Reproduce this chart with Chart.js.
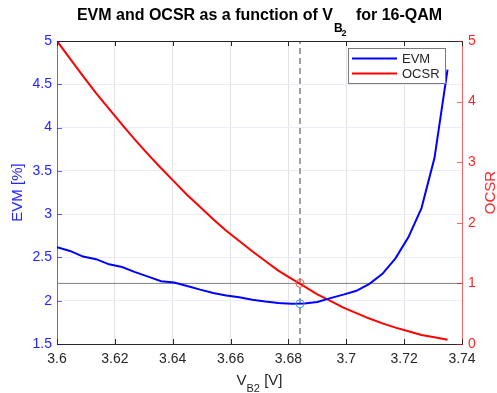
<!DOCTYPE html>
<html>
<head>
<meta charset="utf-8">
<script src="https://cdn.jsdelivr.net/npm/chart.js@4.4.1/dist/chart.umd.min.js"></script>
<style>
  html, body { margin: 0; padding: 0; background: #ffffff; }
  #wrap { width: 497px; height: 393px; }
</style>
</head>
<body>
<div id="wrap"><canvas id="c" width="497" height="393"></canvas></div>
<script>
// ---- data ----
const vb2 = [3.6000, 3.6045, 3.6090, 3.6135, 3.6180, 3.6225, 3.6270, 3.6315, 3.6360, 3.6405,
             3.6450, 3.6495, 3.6540, 3.6585, 3.6630, 3.6675, 3.6720, 3.6765, 3.6810, 3.6855,
             3.6900, 3.6945, 3.6990, 3.7035, 3.7080, 3.7125, 3.7170, 3.7215, 3.7260, 3.7305,
             3.7350];
const evm = [2.617, 2.575, 2.510, 2.480, 2.420, 2.390, 2.330, 2.278, 2.225, 2.210,
             2.170, 2.128, 2.090, 2.060, 2.040, 2.010, 1.990, 1.975, 1.965, 1.968,
             1.985, 2.030, 2.070, 2.115, 2.195, 2.310, 2.490, 2.735, 3.070, 3.650,
             4.670];
const ocsr = [5.00, 4.71, 4.42, 4.14, 3.88, 3.62, 3.37, 3.13, 2.90, 2.68,
              2.46, 2.26, 2.06, 1.87, 1.70, 1.53, 1.37, 1.21, 1.08, 0.95,
              0.82, 0.71, 0.60, 0.51, 0.42, 0.34, 0.27, 0.21, 0.15, 0.11,
              0.07];
const opPoint = 3.684;      // chosen V_B2 (dashed line)
const ocsrRef = 1;          // OCSR reference level (horizontal line)
const evmAtOp = 1.965;      // EVM at the operating point
const xRange = [3.6, 3.74];
const xTicks = [3.6, 3.62, 3.64, 3.66, 3.68, 3.7, 3.72, 3.74];
const xTickLabels = ['3.6', '3.62', '3.64', '3.66', '3.68', '3.7', '3.72', '3.74'];
const evmTicks = [1.5, 2, 2.5, 3, 3.5, 4, 4.5, 5];
const evmTickLabels = ['1.5', '2', '2.5', '3', '3.5', '4', '4.5', '5'];
const ocsrTicks = [0, 1, 2, 3, 4, 5];
const ocsrTickLabels = ['0', '1', '2', '3', '4', '5'];
const seriesNames = ['EVM', 'OCSR'];

// ---- styling ----
const FONT = '"Liberation Sans", Arial, Helvetica, sans-serif';
const BLUE = '#0000ff';
const RED = '#ff0000';
const BLUE_TXT = '#2424ff';
const RED_TXT = '#ff2424';
const DARK = '#262626';

const pts = (ys) => vb2.map((x, i) => ({ x: x, y: ys[i] }));

const decor = {
  id: 'decor',
  afterDraw(chart) {
    const ctx = chart.ctx;
    const a = chart.chartArea;
    const sx = chart.scales.x, sy = chart.scales.y, sy1 = chart.scales.y1;
    ctx.save();
    // top border
    ctx.strokeStyle = DARK;
    ctx.lineWidth = 1;
    ctx.beginPath();
    ctx.moveTo(a.left, Math.round(a.top) + 0.5);
    ctx.lineTo(a.right, Math.round(a.top) + 0.5);
    ctx.stroke();
    // inward ticks: x bottom & top
    const TL = 5;
    ctx.strokeStyle = DARK;
    xTicks.forEach(v => {
      const px = Math.round(sx.getPixelForValue(v)) + 0.5;
      ctx.beginPath();
      ctx.moveTo(px, a.bottom); ctx.lineTo(px, a.bottom - TL);
      ctx.moveTo(px, a.top); ctx.lineTo(px, a.top + TL);
      ctx.stroke();
    });
    // left ticks
    ctx.strokeStyle = 'rgba(0,0,255,0.6)';
    evmTicks.forEach(v => {
      const py = Math.round(sy.getPixelForValue(v)) + 0.5;
      ctx.beginPath();
      ctx.moveTo(a.left, py); ctx.lineTo(a.left + TL, py);
      ctx.stroke();
    });
    // right ticks
    ctx.strokeStyle = 'rgba(255,0,0,0.6)';
    ocsrTicks.forEach(v => {
      const py = Math.round(sy1.getPixelForValue(v)) + 0.5;
      ctx.beginPath();
      ctx.moveTo(a.right, py); ctx.lineTo(a.right - TL, py);
      ctx.stroke();
    });

    // title with nested subscript
    const cx = (a.left + a.right) / 2;
    const fMain = 'bold 16px ' + FONT, fSub = 'bold 12px ' + FONT, fSub2 = 'bold 9px ' + FONT;
    const t1 = 'EVM and OCSR as a function of V', tB = 'B', t2 = '2', t4 = 'for 16-QAM';
    const GAP = 23;
    ctx.font = fMain; const w1 = ctx.measureText(t1).width; const w4 = ctx.measureText(t4).width;
    ctx.font = fSub; const wB = ctx.measureText(tB).width;
    const tot = w1 + GAP + w4;
    let x0 = cx - tot / 2;
    ctx.fillStyle = '#000000';
    ctx.textAlign = 'left';
    ctx.textBaseline = 'alphabetic';
    ctx.font = fMain; ctx.fillText(t1, x0, 20); x0 += w1;
    ctx.font = fSub; ctx.fillText(tB, x0 + 1, 32);
    ctx.font = fSub2; ctx.fillText(t2, x0 + wB, 36);
    ctx.font = fMain; ctx.fillText(t4, x0 + GAP, 20);

    // x axis label
    const fx = '15px ' + FONT, fxs = '11px ' + FONT;
    ctx.font = fx; const wv = ctx.measureText('V').width; const wr = ctx.measureText(' [V]').width;
    ctx.font = fxs; const ws = ctx.measureText('B2').width;
    let xx = cx - (wv + ws + wr) / 2;
    ctx.fillStyle = DARK;
    ctx.font = fx; ctx.fillText('V', xx, 385); xx += wv;
    ctx.font = fxs; ctx.fillText('B2', xx, 392); xx += ws;
    ctx.font = fx; ctx.fillText(' [V]', xx, 385);

    // y axis labels
    const cy = (a.top + a.bottom) / 2;
    ctx.font = '15px ' + FONT;
    ctx.textAlign = 'center';
    ctx.textBaseline = 'middle';
    ctx.save();
    ctx.translate(18, cy);
    ctx.rotate(-Math.PI / 2);
    ctx.fillStyle = BLUE_TXT;
    ctx.fillText('EVM [%]', 0, 0);
    ctx.restore();
    ctx.save();
    ctx.translate(491, cy);
    ctx.rotate(-Math.PI / 2);
    ctx.fillStyle = RED_TXT;
    ctx.fillText('OCSR', 0, 0);
    ctx.restore();

    // legend
    const lx = 348.5, ly = 48.5, lw = 97, lh = 35;
    ctx.fillStyle = '#ffffff';
    ctx.fillRect(lx, ly, lw, lh);
    ctx.strokeStyle = '#7a7a7a';
    ctx.lineWidth = 1;
    ctx.strokeRect(lx, ly, lw, lh);
    const rows = [[seriesNames[0], BLUE, 58.5], [seriesNames[1], RED, 73.5]];
    ctx.textAlign = 'left';
    ctx.textBaseline = 'middle';
    ctx.font = '13px ' + FONT;
    rows.forEach(r => {
      ctx.strokeStyle = r[1];
      ctx.lineWidth = 2;
      ctx.beginPath();
      ctx.moveTo(352, r[2]); ctx.lineTo(397, r[2]);
      ctx.stroke();
      ctx.fillStyle = DARK;
      ctx.fillText(r[0], 402, r[2] + 0.5);
    });
    ctx.restore();
  }
};

new Chart(document.getElementById('c'), {
  type: 'line',
  data: {
    datasets: [
      { label: 'EVM @ op', data: [{ x: opPoint, y: evmAtOp }], yAxisID: 'y', showLine: false,
        pointStyle: 'circle', pointRadius: 4, pointBorderWidth: 1,
        pointBorderColor: '#3d9bf0', pointBackgroundColor: 'rgba(0,0,0,0)' },
      { label: 'OCSR @ op', data: [{ x: opPoint, y: ocsrRef }], yAxisID: 'y1', showLine: false,
        pointStyle: 'circle', pointRadius: 4, pointBorderWidth: 1,
        pointBorderColor: '#ff4a4a', pointBackgroundColor: 'rgba(0,0,0,0)' },
      { label: seriesNames[0], data: pts(evm), yAxisID: 'y', borderColor: BLUE, borderWidth: 2,
        pointRadius: 0, tension: 0, fill: false },
      { label: seriesNames[1], data: pts(ocsr), yAxisID: 'y1', borderColor: RED, borderWidth: 2,
        pointRadius: 0, tension: 0, fill: false },
      { label: 'ref h', data: [{ x: xRange[0], y: ocsrRef }, { x: xRange[1], y: ocsrRef }], yAxisID: 'y1',
        borderColor: '#808080', borderWidth: 1, pointRadius: 0, fill: false },
      { label: 'ref v', data: [{ x: opPoint, y: evmTicks[0] }, { x: opPoint, y: evmTicks[evmTicks.length - 1] }], yAxisID: 'y',
        borderColor: '#444444', borderWidth: 1, borderDash: [6, 4], pointRadius: 0, fill: false }
    ]
  },
  options: {
    responsive: false,
    animation: false,
    devicePixelRatio: 1,
    layout: { padding: { top: 41, left: 0, right: 0, bottom: 0 } },
    plugins: { legend: { display: false }, title: { display: false }, tooltip: { enabled: false } },
    scales: {
      x: {
        type: 'linear', min: xRange[0], max: xRange[1],
        afterBuildTicks: s => { s.ticks = xTicks.map(v => ({ value: v })); },
        afterFit: s => { s.height = 49; },
        ticks: { callback: (v, i) => xTickLabels[i], color: DARK, font: { size: 14, family: FONT },
                 padding: 7, maxRotation: 0, autoSkip: false },
        grid: { color: '#e3e3e3', lineWidth: 1, drawTicks: false },
        border: { color: DARK, width: 1 }
      },
      y: {
        position: 'left', min: evmTicks[0], max: evmTicks[evmTicks.length - 1],
        afterBuildTicks: s => { s.ticks = evmTicks.map(v => ({ value: v })); },
        afterFit: s => { s.width = 57; },
        ticks: { callback: (v, i) => evmTickLabels[i], color: BLUE_TXT, font: { size: 14, family: FONT },
                 padding: 5, autoSkip: false },
        grid: { color: '#ebebfb', lineWidth: 1, drawTicks: false },
        border: { color: 'rgba(0,0,255,0.55)', width: 1 }
      },
      y1: {
        position: 'right', min: ocsrTicks[0], max: ocsrTicks[ocsrTicks.length - 1],
        afterBuildTicks: s => { s.ticks = ocsrTicks.map(v => ({ value: v })); },
        afterFit: s => { s.width = 35; },
        ticks: { callback: (v, i) => ocsrTickLabels[i], color: RED_TXT, font: { size: 14, family: FONT },
                 padding: 6, autoSkip: false },
        grid: { drawOnChartArea: false, drawTicks: false },
        border: { color: 'rgba(255,0,0,0.55)', width: 1 }
      }
    }
  },
  plugins: [decor]
});
</script>
</body>
</html>
